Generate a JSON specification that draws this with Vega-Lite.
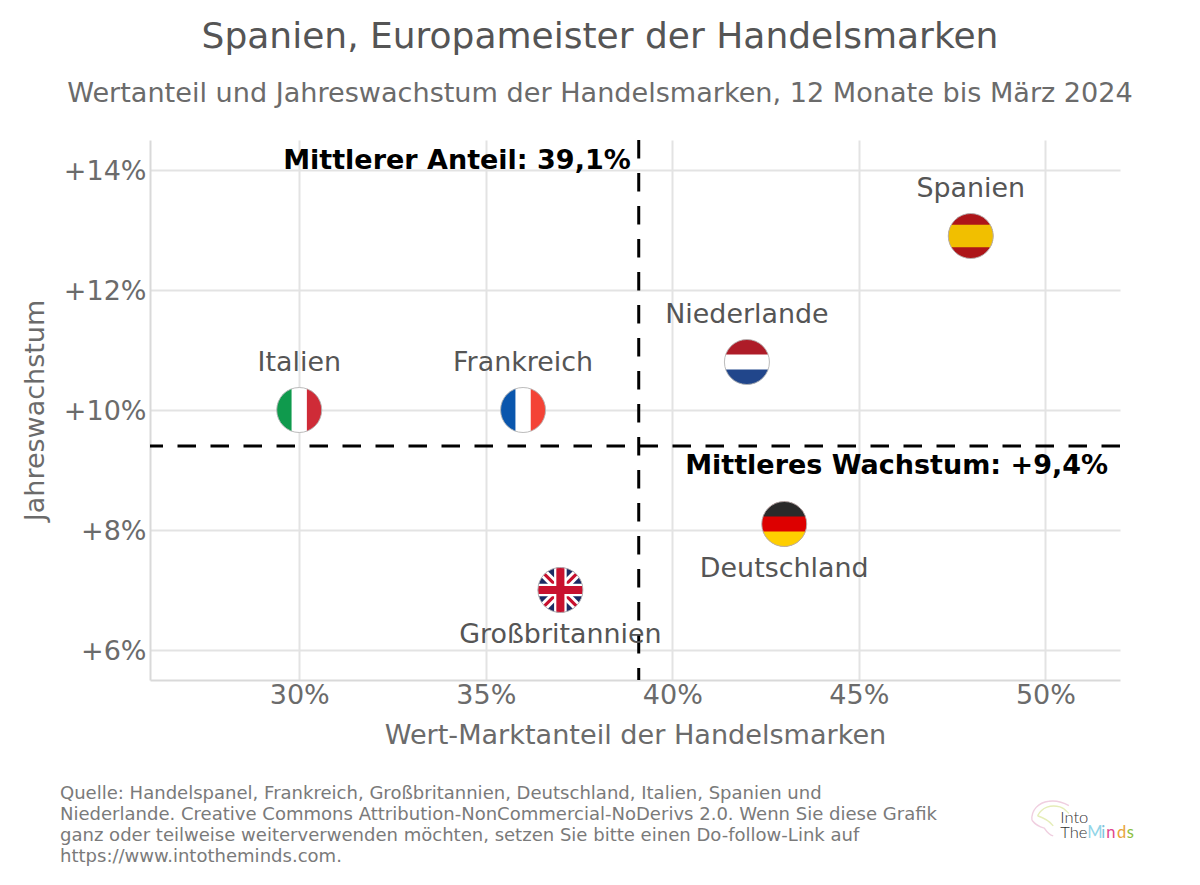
{
"$schema":"https://vega.github.io/schema/vega-lite/v6.json",
"width":970,"height":540,
"autosize":{"type":"none"},
"padding":{"left":150,"top":140,"right":80,"bottom":205},
"background":"white",
"title":{"text":"Spanien, Europameister der Handelsmarken","subtitle":"Wertanteil und Jahreswachstum der Handelsmarken, 12 Monate bis März 2024","anchor":"middle","frame":"group","dx":-35,"offset":30,"font":"DejaVu Sans","fontSize":36,"fontWeight":"normal","color":"#555555","subtitleFont":"DejaVu Sans","subtitleFontSize":27.1,"subtitleColor":"#6b6b6b","subtitlePadding":25},
"config":{"view":{"stroke":null},"font":"DejaVu Sans"},
"resolve":{"scale":{"color":"independent"}},
"layer":[
{"data":{"values":[{"anteil":39.1}]},"mark":{"type":"rule","color":"black","strokeWidth":3,"strokeDash":[18.5,14.5]},
 "encoding":{"x":{"field":"anteil","type":"quantitative","scale":{"domain":[26,52],"nice":false,"zero":false},
   "axis":{"values":[30,35,40,45,50],"labelExpr":"datum.value + '%'","title":"Wert-Marktanteil der Handelsmarken","grid":true,"gridColor":"#e3e3e3","gridWidth":2,"domainColor":"#d9d9d9","domainWidth":2,"ticks":false,"labelFontSize":27,"labelColor":"#6b6b6b","labelPadding":2,"titleFontSize":27.1,"titleFontWeight":"normal","titleColor":"#6b6b6b","titlePadding":14}}}},
{"data":{"values":[{"wachstum":9.4}]},"mark":{"type":"rule","color":"black","strokeWidth":3,"strokeDash":[18.5,14.5]},
 "encoding":{"y":{"field":"wachstum","type":"quantitative","scale":{"domain":[5.5,14.5],"nice":false,"zero":false},
   "axis":{"values":[6,8,10,12,14],"labelExpr":"'+' + datum.value + '%'","title":"Jahreswachstum","grid":true,"gridColor":"#e3e3e3","gridWidth":2,"domainColor":"#d9d9d9","domainWidth":2,"ticks":false,"labelFontSize":27,"labelColor":"#6b6b6b","labelPadding":4,"labelOffset":1,"titleFontSize":27,"titleFontWeight":"normal","titleColor":"#6b6b6b","titlePadding":14}}}},
{"data":{"values":[
 {"land":"Italien","anteil":30,"wachstum":10,"teil":"voll","farbe":"Weiß"},
 {"land":"Italien","anteil":30,"wachstum":10,"teil":"links","farbe":"Italien Grün"},
 {"land":"Italien","anteil":30,"wachstum":10,"teil":"rechts","farbe":"Italien Rot"},
 {"land":"Frankreich","anteil":36,"wachstum":10,"teil":"voll","farbe":"Weiß"},
 {"land":"Frankreich","anteil":36,"wachstum":10,"teil":"links","farbe":"Frankreich Blau"},
 {"land":"Frankreich","anteil":36,"wachstum":10,"teil":"rechts","farbe":"Frankreich Rot"},
 {"land":"Spanien","anteil":48,"wachstum":12.9,"teil":"voll","farbe":"Spanien Rot"},
 {"land":"Spanien","anteil":48,"wachstum":12.9,"teil":"breit","farbe":"Spanien Gelb"},
 {"land":"Niederlande","anteil":42,"wachstum":10.8,"teil":"voll","farbe":"Weiß"},
 {"land":"Niederlande","anteil":42,"wachstum":10.8,"teil":"oben","farbe":"Niederlande Rot"},
 {"land":"Niederlande","anteil":42,"wachstum":10.8,"teil":"unten","farbe":"Niederlande Blau"},
 {"land":"Deutschland","anteil":43,"wachstum":8.1,"teil":"voll","farbe":"Deutschland Rot"},
 {"land":"Deutschland","anteil":43,"wachstum":8.1,"teil":"oben","farbe":"Deutschland Schwarz"},
 {"land":"Deutschland","anteil":43,"wachstum":8.1,"teil":"unten","farbe":"Deutschland Gelb"},
 {"land":"Großbritannien","anteil":37,"wachstum":7,"teil":"voll","farbe":"UK Blau"},
 {"land":"Großbritannien","anteil":37,"wachstum":7,"teil":"diag1","farbe":"Weiß"},
 {"land":"Großbritannien","anteil":37,"wachstum":7,"teil":"diag2","farbe":"Weiß"},
 {"land":"Großbritannien","anteil":37,"wachstum":7,"teil":"diag1r","farbe":"UK Rot"},
 {"land":"Großbritannien","anteil":37,"wachstum":7,"teil":"diag2r","farbe":"UK Rot"},
 {"land":"Großbritannien","anteil":37,"wachstum":7,"teil":"kreuzW1","farbe":"Weiß"},
 {"land":"Großbritannien","anteil":37,"wachstum":7,"teil":"kreuzW2","farbe":"Weiß"},
 {"land":"Großbritannien","anteil":37,"wachstum":7,"teil":"kreuzR1","farbe":"UK Rot"},
 {"land":"Großbritannien","anteil":37,"wachstum":7,"teil":"kreuzR2","farbe":"UK Rot"}
 ]},
 "mark":{"type":"point","filled":true,"size":2025,"opacity":1,"strokeWidth":0},
 "encoding":{
  "x":{"field":"anteil","type":"quantitative"},
  "y":{"field":"wachstum","type":"quantitative"},
  "color":{"field":"farbe","type":"nominal","legend":null,"scale":{
   "domain":["Weiß","Italien Grün","Italien Rot","Frankreich Blau","Frankreich Rot","Spanien Rot","Spanien Gelb","Niederlande Rot","Niederlande Blau","Deutschland Rot","Deutschland Schwarz","Deutschland Gelb","UK Blau","UK Rot"],
   "range":["#ffffff","#0f9a4d","#cf2b37","#0a56ad","#f44336","#ad1519","#f1bf00","#ae1c28","#21468b","#dd0000","#2a2a2a","#ffce00","#1b2a63","#c8102e"]}},
  "shape":{"field":"teil","type":"nominal","legend":null,"scale":{
   "domain":["voll","links","rechts","breit","oben","unten","diag1","diag2","diag1r","diag2r","kreuzW1","kreuzW2","kreuzR1","kreuzR2"],
   "range":[
    "M-1,0A1,1 0 1,1 1,0A1,1 0 1,1 -1,0Z",
    "M-.34,-.94A1,1 0 0,0 -.34,.94Z",
    "M.34,-.94A1,1 0 0,1 .34,.94Z",
    "M-.866,-.5L.866,-.5A1,1 0 0,1 .866,.5L-.866,.5A1,1 0 0,1 -.866,-.5Z",
    "M-.944,-.33A1,1 0 0,1 .944,-.33Z",
    "M.944,.33A1,1 0 0,1 -.944,.33Z",
    "M-.552,-.834L.834,.552A1,1 0 0,1 .552,.834L-.834,-.552A1,1 0 0,1 -.552,-.834Z",
    "M.552,-.834L-.834,.552A1,1 0 0,0 -.552,.834L.834,-.552A1,1 0 0,0 .552,-.834Z",
    "M-.656,-.755L.755,.656A1,1 0 0,1 .656,.755L-.755,-.656A1,1 0 0,1 -.656,-.755Z",
    "M.656,-.755L-.755,.656A1,1 0 0,0 -.656,.755L.755,-.656A1,1 0 0,0 .656,-.755Z",
    "M-.28,-.96A1,1 0 0,1 .28,-.96L.28,.96A1,1 0 0,1 -.28,.96Z",
    "M-.96,-.28L.96,-.28A1,1 0 0,1 .96,.28L-.96,.28A1,1 0 0,1 -.96,-.28Z",
    "M-.18,-.984A1,1 0 0,1 .18,-.984L.18,.984A1,1 0 0,1 -.18,.984Z",
    "M-.984,-.18L.984,-.18A1,1 0 0,1 .984,.18L-.984,.18A1,1 0 0,1 -.984,-.18Z"
   ]}}
 }},
{"data":{"values":[{"anteil":30,"wachstum":10},{"anteil":36,"wachstum":10},{"anteil":48,"wachstum":12.9},{"anteil":42,"wachstum":10.8},{"anteil":43,"wachstum":8.1},{"anteil":37,"wachstum":7}]},
 "mark":{"type":"point","shape":"circle","filled":false,"size":2025,"stroke":"#b5b5b5","strokeWidth":1,"opacity":0.9},
 "encoding":{"x":{"field":"anteil","type":"quantitative"},"y":{"field":"wachstum","type":"quantitative"}}},
{"data":{"values":[{"land":"Italien","anteil":30,"wachstum":10},{"land":"Frankreich","anteil":36,"wachstum":10},{"land":"Spanien","anteil":48,"wachstum":12.9},{"land":"Niederlande","anteil":42,"wachstum":10.8}]},
 "mark":{"type":"text","fontSize":26.9,"color":"#555555","dy":-47,"align":"center","baseline":"middle"},
 "encoding":{"x":{"field":"anteil","type":"quantitative"},"y":{"field":"wachstum","type":"quantitative"},"text":{"field":"land"}}},
{"data":{"values":[{"land":"Deutschland","anteil":43,"wachstum":8.1},{"land":"Großbritannien","anteil":37,"wachstum":7}]},
 "mark":{"type":"text","fontSize":26.9,"color":"#555555","dy":45,"align":"center","baseline":"middle"},
 "encoding":{"x":{"field":"anteil","type":"quantitative"},"y":{"field":"wachstum","type":"quantitative"},"text":{"field":"land"}}},
{"data":{"values":[{"notiz":"Mittlerer Anteil: 39,1%","anteil":39.1,"wachstum":14.15}]},
 "mark":{"type":"text","fontSize":27,"fontWeight":"bold","color":"black","align":"right","baseline":"middle","dx":-8},
 "encoding":{"x":{"field":"anteil","type":"quantitative"},"y":{"field":"wachstum","type":"quantitative"},"text":{"field":"notiz"}}},
{"data":{"values":[{"notiz":"Mittleres Wachstum: +9,4%","anteil":51.68,"wachstum":9.06}]},
 "mark":{"type":"text","fontSize":27,"fontWeight":"bold","color":"black","align":"right","baseline":"middle"},
 "encoding":{"x":{"field":"anteil","type":"quantitative"},"y":{"field":"wachstum","type":"quantitative"},"text":{"field":"notiz"}}},
{"data":{"values":[
 {"zeile":"Quelle: Handelspanel, Frankreich, Großbritannien, Deutschland, Italien, Spanien und","anteil":23.587,"wachstum":3.6},
 {"zeile":"Niederlande. Creative Commons Attribution-NonCommercial-NoDerivs 2.0. Wenn Sie diese Grafik","anteil":23.587,"wachstum":3.255},
 {"zeile":"ganz oder teilweise weiterverwenden möchten, setzen Sie bitte einen Do-follow-Link auf","anteil":23.587,"wachstum":2.895},
 {"zeile":"https://www.intotheminds.com.","anteil":23.587,"wachstum":2.55}
 ]},
 "mark":{"type":"text","fontSize":18.05,"color":"#7a7a7a","align":"left","baseline":"middle"},
 "encoding":{"x":{"field":"anteil","type":"quantitative"},"y":{"field":"wachstum","type":"quantitative"},"text":{"field":"zeile"}}},
{"data":{"values":[{"anteil":50.15,"wachstum":3.2}]},
 "mark":{"type":"point","filled":false,"size":2000,"opacity":1,"strokeWidth":1.4,"stroke":"#f0cfe0","shape":"M-.85,.1C-.9,-.35,-.55,-.7,-.1,-.75C.25,-.8,.55,-.7,.8,-.55M-.85,.1C-.7,.3,-.5,.4,-.3,.45C-.2,.6,-.1,.75,.1,.8"},
 "encoding":{"x":{"field":"anteil","type":"quantitative"},"y":{"field":"wachstum","type":"quantitative"}}},
{"data":{"values":[{"anteil":50.15,"wachstum":3.2}]},
 "mark":{"type":"point","filled":false,"size":2000,"opacity":1,"strokeWidth":1.4,"stroke":"#e5edb8","shape":"M-.6,-.1C-.4,-.5,0,-.6,.4,-.5C.6,-.45,.7,-.3,.8,-.2M-.6,-.1C-.3,0,-.1,.1,.1,.35"},
 "encoding":{"x":{"field":"anteil","type":"quantitative"},"y":{"field":"wachstum","type":"quantitative"}}},
{"data":{"values":[{"t":"Into","anteil":50.4,"wachstum":3.2},{"t":"The","anteil":50.4,"wachstum":2.95}]},
 "mark":{"type":"text","font":"Lato","fontWeight":300,"fontSize":16.5,"color":"#333333","align":"left","baseline":"middle"},
 "encoding":{"x":{"field":"anteil","type":"quantitative"},"y":{"field":"wachstum","type":"quantitative"},"text":{"field":"t"}}},
{"data":{"values":[{"t":"M","anteil":51.12,"wachstum":2.95},{"t":"i","anteil":51.5,"wachstum":2.95},{"t":"n","anteil":51.63,"wachstum":2.95},{"t":"d","anteil":51.92,"wachstum":2.95},{"t":"s","anteil":52.18,"wachstum":2.95}]},
 "mark":{"type":"text","font":"Lato","fontWeight":400,"fontSize":16.5,"align":"left","baseline":"middle"},
 "encoding":{"x":{"field":"anteil","type":"quantitative"},"y":{"field":"wachstum","type":"quantitative"},"text":{"field":"t"},
  "color":{"field":"t","type":"nominal","legend":null,"scale":{"domain":["M","i","n","d","s"],"range":["#92d5e8","#7fc4dc","#e0468e","#e8a33a","#8dbf3f"]}}}}
]
}
